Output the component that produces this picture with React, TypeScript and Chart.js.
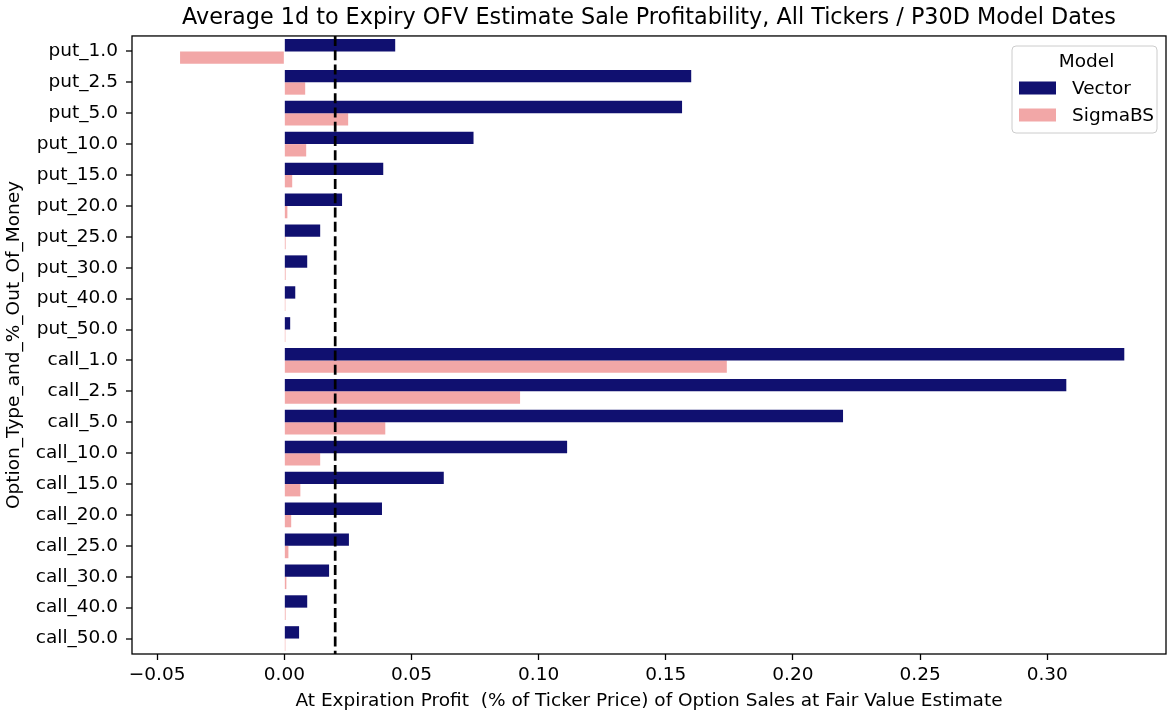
import React, { useEffect, useRef } from "react";
import { Chart, registerables } from "chart.js";

Chart.register(...registerables);

const categories = [
  "put_1.0", "put_2.5", "put_5.0", "put_10.0", "put_15.0",
  "put_20.0", "put_25.0", "put_30.0", "put_40.0", "put_50.0",
  "call_1.0", "call_2.5", "call_5.0", "call_10.0", "call_15.0",
  "call_20.0", "call_25.0", "call_30.0", "call_40.0", "call_50.0",
];

const vectorValues = [
  0.0436, 0.160, 0.1564, 0.0744, 0.0389, 0.0227, 0.0141, 0.0090, 0.0043, 0.0023,
  0.3303, 0.3075, 0.2197, 0.1112, 0.0627, 0.0384, 0.0254, 0.0176, 0.0090, 0.0058,
];

const sigmaBSValues = [
  -0.0410, 0.0082, 0.0251, 0.0086, 0.0031, 0.0012, 0.0005, 0.0005, 0.0004, 0.0004,
  0.1740, 0.0927, 0.0397, 0.0141, 0.0063, 0.0027, 0.0016, 0.0008, 0.0005, 0.0004,
];

const seriesNames = ["Vector", "SigmaBS"];
const xTickValues = [-0.05, 0.0, 0.05, 0.1, 0.15, 0.2, 0.25, 0.3];
const xTickLabels = ["\u22120.05", "0.00", "0.05", "0.10", "0.15", "0.20", "0.25", "0.30"];
const thresholdValue = 0.02;
const xMin = -0.0599;
const xMax = 0.3467;

const NAVY = "rgb(16,16,112)";
const PINK = "rgb(242,167,167)";
const FONT = "'DejaVu Sans', sans-serif";
const FS = 18.5;

const framePlugin = {
  id: "frameAndExtras",
  afterDatasetsDraw(chart: any) {
    const { ctx, chartArea, scales } = chart;
    const x = scales.x.getPixelForValue(thresholdValue);
    ctx.save();
    ctx.beginPath();
    ctx.rect(chartArea.left, chartArea.top, chartArea.right - chartArea.left, chartArea.bottom - chartArea.top);
    ctx.clip();
    ctx.strokeStyle = "#000";
    ctx.lineWidth = 2.7;
    ctx.setLineDash([10, 4.3]);
    ctx.beginPath();
    ctx.moveTo(x, chartArea.top);
    ctx.lineTo(x, chartArea.bottom);
    ctx.stroke();
    ctx.restore();
  },
  afterDraw(chart: any) {
    const { ctx, chartArea, scales } = chart;
    ctx.save();
    ctx.setLineDash([]);
    ctx.strokeStyle = "#000";
    ctx.lineWidth = 1.3;
    ctx.strokeRect(chartArea.left, chartArea.top, chartArea.right - chartArea.left, chartArea.bottom - chartArea.top);

    // y tick marks at category centres
    ctx.fillStyle = "#000";
    for (let i = 0; i < categories.length; i++) {
      const y = scales.y.getPixelForValue(i);
      ctx.fillRect(chartArea.left - 6, Math.round(y) - 0.65, 6, 1.3);
    }

    // legend
    const bx = 1012, by = 46, bw = 145, bh = 87, r = 4;
    ctx.beginPath();
    ctx.moveTo(bx + r, by);
    ctx.lineTo(bx + bw - r, by);
    ctx.quadraticCurveTo(bx + bw, by, bx + bw, by + r);
    ctx.lineTo(bx + bw, by + bh - r);
    ctx.quadraticCurveTo(bx + bw, by + bh, bx + bw - r, by + bh);
    ctx.lineTo(bx + r, by + bh);
    ctx.quadraticCurveTo(bx, by + bh, bx, by + bh - r);
    ctx.lineTo(bx, by + r);
    ctx.quadraticCurveTo(bx, by, bx + r, by);
    ctx.closePath();
    ctx.fillStyle = "rgba(255,255,255,0.8)";
    ctx.fill();
    ctx.strokeStyle = "rgba(204,204,204,1)";
    ctx.lineWidth = 1;
    ctx.stroke();

    ctx.fillStyle = "#000";
    ctx.font = `${FS}px ${FONT}`;
    ctx.textBaseline = "middle";
    ctx.textAlign = "center";
    ctx.fillText("Model", bx + bw / 2 + 2, 62);
    const colors = [NAVY, PINK];
    const ys = [88, 115];
    ctx.textAlign = "left";
    seriesNames.forEach((name, i) => {
      ctx.fillStyle = colors[i];
      ctx.fillRect(1019, ys[i] - 6.5, 37, 13);
      ctx.fillStyle = "#000";
      ctx.fillText(name, 1072, ys[i] + 1);
    });
    ctx.restore();
  },
};

export default function App() {
  const ref = useRef<HTMLCanvasElement | null>(null);
  useEffect(() => {
    if (!ref.current) return;
    const chart = new Chart(ref.current, {
      type: "bar",
      data: {
        labels: categories,
        datasets: [
          {
            label: seriesNames[0],
            data: vectorValues,
            backgroundColor: NAVY,
            borderWidth: 0,
            categoryPercentage: 0.8,
            barPercentage: 1.0,
          },
          {
            label: seriesNames[1],
            data: sigmaBSValues,
            backgroundColor: PINK,
            borderWidth: 0,
            categoryPercentage: 0.8,
            barPercentage: 1.0,
          },
        ],
      },
      options: {
        indexAxis: "y",
        responsive: false,
        animation: false,
        devicePixelRatio: 1,
        layout: { padding: { left: 0, right: 1, top: 0, bottom: 0 } },
        plugins: {
          legend: { display: false },
          tooltip: { enabled: false },
          title: {
            display: true,
            fullSize: false,
            text: "Average 1d to Expiry OFV Estimate Sale Profitability, All Tickers / P30D Model Dates",
            color: "#000",
            font: { family: FONT, size: 22.3, weight: "normal" },
            padding: { top: 5, bottom: 4.2 },
          },
        },
        scales: {
          x: {
            type: "linear",
            min: xMin,
            max: xMax,
            afterFit(scale: any) {
              scale.height = 61;
            },
            afterBuildTicks(scale: any) {
              scale.ticks = xTickValues.map((v) => ({ value: v }));
            },
            ticks: {
              color: "#000",
              font: { family: FONT, size: FS },
              padding: 4,
              maxRotation: 0,
              autoSkip: false,
              callback: (_v: any, i: number) => xTickLabels[i],
            },
            grid: {
              display: true,
              drawOnChartArea: false,
              drawTicks: true,
              tickLength: 6,
              tickColor: "#000",
              tickWidth: 1.3,
            },
            border: { display: false },
            title: {
              display: true,
              text: "At Expiration Profit  (% of Ticker Price) of Option Sales at Fair Value Estimate",
              color: "#000",
              font: { family: FONT, size: FS },
              padding: { top: 0, bottom: 3 },
            },
          },
          y: {
            type: "category",
            afterFit(scale: any) {
              scale.width = 132;
            },
            ticks: {
              color: "#000",
              font: { family: FONT, size: FS },
              padding: 8,
              autoSkip: false,
            },
            grid: {
              display: false,
              tickLength: 6,
            },
            border: { display: false },
            title: {
              display: true,
              text: "Option_Type_and_%_Out_Of_Money",
              color: "#000",
              font: { family: FONT, size: FS },
              padding: { top: 3, bottom: 0 },
            },
          },
        },
      },
      plugins: [framePlugin],
    });
    return () => chart.destroy();
  }, []);

  return (
    <div style={{ position: "fixed", left: 0, top: 0, width: 1167, height: 715, background: "#fff" }}>
      <canvas ref={ref} width={1167} height={715} style={{ display: "block" }} />
    </div>
  );
}
